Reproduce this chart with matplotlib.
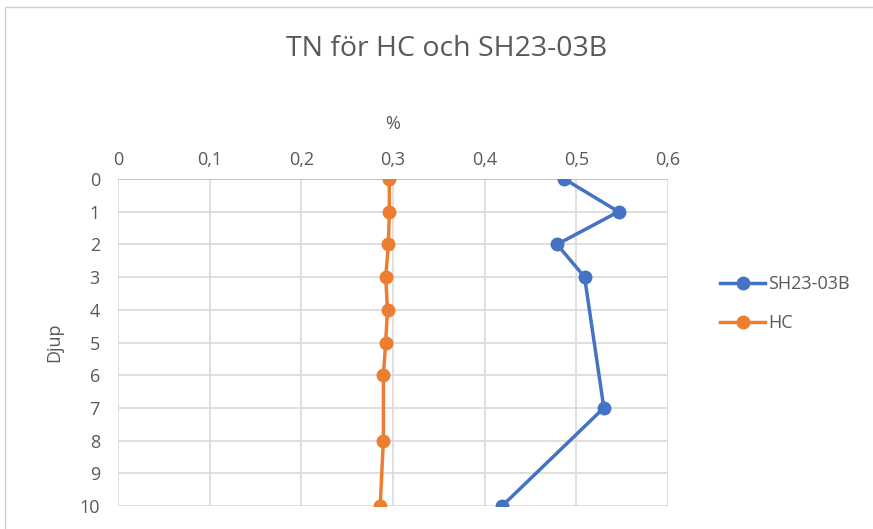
import matplotlib
matplotlib.use('Agg')
import matplotlib.pyplot as plt
from matplotlib.patches import Rectangle
from matplotlib.ticker import FuncFormatter

plt.rcParams['font.family'] = ['Open Sans', 'DejaVu Sans']

# depth values (Djup)
sh_depth = [0, 1, 2, 3, 7, 10]
sh_values = [0.487, 0.546, 0.479, 0.509, 0.530, 0.419]

hc_depth = [0, 1, 2, 3, 4, 5, 6, 8, 10]
hc_values = [0.296, 0.296, 0.295, 0.292, 0.294, 0.292, 0.2895, 0.2895, 0.286]

x_ticks = [0, 0.1, 0.2, 0.3, 0.4, 0.5, 0.6]
y_ticks = list(range(0, 11))

text_color = '#595959'
grid_color = '#d9d9d9'

fig = plt.figure(figsize=(8.73, 5.29), dpi=100)
ax = fig.add_axes([118 / 873, 1 - 506 / 529, (668 - 118) / 873, (506 - 179) / 529])

# chart area border like excel
fig.patches.append(Rectangle((5 / 873, -0.1), 1.2, 1 - 7 / 529 + 0.1, transform=fig.transFigure,
                             fill=False, edgecolor='#d0d0d0', linewidth=1))

ax.plot(sh_values, sh_depth, color='#4472C4', linewidth=2.5, marker='o', markersize=9,
        label='SH23-03B', solid_joinstyle='round', zorder=3)
ax.plot(hc_values, hc_depth, color='#ED7D31', linewidth=2.5, marker='o', markersize=9,
        label='HC', solid_joinstyle='round', zorder=3)

ax.set_xlim(0, 0.6)
ax.set_ylim(10, 0)
ax.set_xticks(x_ticks)
ax.set_yticks(y_ticks)
ax.xaxis.set_major_formatter(FuncFormatter(lambda v, p: ('%g' % round(v, 1)).replace('.', ',')))
ax.xaxis.tick_top()
ax.xaxis.set_label_position('top')
ax.tick_params(axis='both', length=0, labelsize=13, colors=text_color)
ax.tick_params(axis='x', pad=7)
ax.tick_params(axis='y', pad=13)

ax.grid(True, color=grid_color, linewidth=1.2)
ax.set_axisbelow(True)
for s in ax.spines.values():
    s.set_visible(False)
ax.axhline(0, color='#bfbfbf', linewidth=1.2, zorder=1)

ax.set_xlabel('%', fontsize=13, color=text_color, labelpad=16)
ax.set_ylabel('Djup', fontsize=13, color=text_color, labelpad=12)

fig.text(447 / 873, 1 - 49 / 529, 'TN för HC och SH23-03B', ha='center', va='center',
         fontsize=20.5, color=text_color)

leg = fig.legend(loc='upper left', bbox_to_anchor=(704 / 873, 1 - 259 / 529), frameon=False,
                 fontsize=13, handlelength=2.5, labelspacing=1.15, handletextpad=0.15)
for t in leg.get_texts():
    t.set_color(text_color)

fig.savefig('out.png', dpi=100)
